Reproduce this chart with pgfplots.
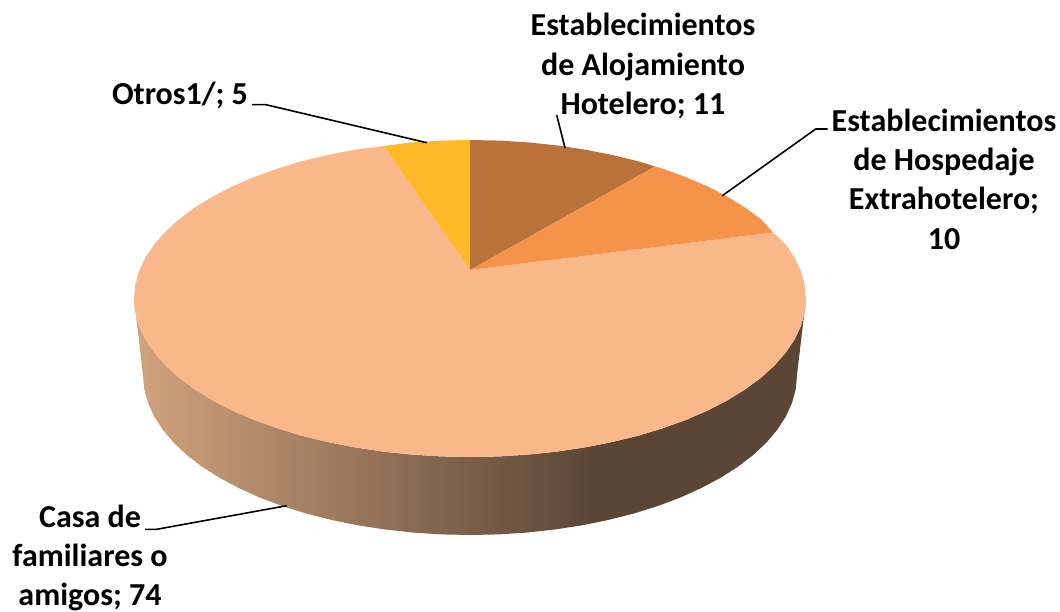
\documentclass[border=0pt]{standalone}
\usepackage{fontspec}
\setmainfont{Carlito}
\usepackage{pgfplots}
\pgfplotsset{compat=1.18}
\definecolor{casa}{HTML}{F8B88A}
\definecolor{otros}{HTML}{FDB927}
\definecolor{aloja}{HTML}{B8723A}
\definecolor{extra}{HTML}{F6934A}
% side of the disc: light on the left, dark from x=590 on
\pgfdeclarehorizontalshading{sidefade}{100bp}{
  rgb(0bp)=(0.824,0.639,0.494);
  rgb(25bp)=(0.824,0.639,0.494);
  rgb(59bp)=(0.357,0.275,0.212);
  rgb(100bp)=(0.357,0.275,0.212)}
\tikzset{
  lbl/.style={font=\fontsize{32}{39.3}\selectfont\bfseries, align=center, inner sep=0pt},
  leader/.style={black, line width=1.6pt, mark=none},
}
\begin{document}
\begin{tikzpicture}
\begin{axis}[
    hide axis,
    scale only axis,
    width=1060pt,
    height=612pt,
    xmin=0, xmax=1060,
    ymin=0, ymax=612,
    y dir=reverse,
    clip=false,
]
% page corners
\addplot[draw=none, mark=none] coordinates {(0,0) (1060,612)};
% side of the disc
\addplot[draw=none, mark=none, shade, shading=sidefade] coordinates {
  (806,298.5) (804.7,312.3) (800.9,326) (794.6,339.5) (785.7,352.7) (774.5,365.5) (761,377.75)
  (745.2,389.4) (727.4,400.4) (707.6,410.6) (686,419.9) (662.7,428.3) (638,435.8) (612,442.1)
  (584.9,447.4) (557,451.6) (528.3,454.6) (499.3,456.4) (470,457) (440.7,456.4) (411.7,454.6)
  (383,451.6) (355.1,447.4) (328,442.1) (302,435.8) (277.3,428.3) (254,419.9) (232.4,410.6)
  (212.6,400.4) (194.8,389.4) (179,377.75) (165.5,365.5) (154.3,352.7) (145.4,339.5) (139.1,326)
  (135.3,312.3) (134,298.5)
  (143,375) (144.2,388.9) (148,402.8) (154.1,416.4) (162.7,429.7) (173.6,442.6) (186.8,455)
  (202.1,466.8) (219.5,477.8) (238.8,488.1) (259.8,497.6) (282.4,506.1) (306.5,513.6) (331.8,520)
  (358.2,525.4) (385.4,529.5) (413.2,532.6) (441.5,534.4) (470,535) (498.5,534.4) (526.8,532.6)
  (554.6,529.5) (581.8,525.4) (608.2,520) (633.5,513.6) (657.6,506.1) (680.2,497.6) (701.2,488.1)
  (720.5,477.8) (737.9,466.8) (753.2,455) (766.4,442.6) (777.3,429.7) (785.9,416.4) (792,402.8)
  (795.8,388.9) (797,375)
} --cycle;
% Casa de familiares o amigos, 74
\addplot[draw=none, fill=casa, mark=none] coordinates {
  (470,270) (773,232.5) (785.7,244.3) (794.6,257.5) (800.9,271) (804.7,284.7) (806,298.5)
  (804.7,312.3) (800.9,326) (794.6,339.5) (785.7,352.7) (774.5,365.5) (761,377.75)
  (745.2,389.4) (727.4,400.4) (707.6,410.6) (686,419.9) (662.7,428.3) (638,435.8) (612,442.1)
  (584.9,447.4) (557,451.6) (528.3,454.6) (499.3,456.4) (470,457) (440.7,456.4) (411.7,454.6)
  (383,451.6) (355.1,447.4) (328,442.1) (302,435.8) (277.3,428.3) (254,419.9) (232.4,410.6)
  (212.6,400.4) (194.8,389.4) (179,377.75) (165.5,365.5) (154.3,352.7) (145.4,339.5) (139.1,326)
  (135.3,312.3) (134,298.5) (135.3,284.7) (139.1,271) (145.4,257.5) (154.3,244.3) (165.5,231.5)
  (179,219.25) (194.8,207.6) (212.6,196.6) (232.4,186.4) (254,177.1) (277.3,168.7) (302,161.2)
  (328,154.9) (355.1,149.6) (384,146)
} --cycle;
% Otros, 5
\addplot[draw=none, fill=otros, mark=none] coordinates {
  (470,270) (384,146) (411.7,142.4) (440.7,140.6) (470,140)
} --cycle;
% Alojamiento hotelero, 11
\addplot[draw=none, fill=aloja, mark=none] coordinates {
  (470,270) (470,140) (499.3,140.6) (528.3,142.4) (557,145.4) (584.9,149.6) (612,154.9) (638,161.2) (655,166.5)
} --cycle;
% Hospedaje extrahotelero, 10
\addplot[draw=none, fill=extra, mark=none] coordinates {
  (470,270) (655,166.5) (662.7,168.7) (686,177.1) (707.6,186.4) (727.4,196.6) (745.2,207.6) (761,219.25) (773,232.5)
} --cycle;
% leader lines
\addplot[leader] coordinates {(252,104.7) (266,104.7) (426.7,142.7)};
\addplot[leader] coordinates {(556.7,115) (565,148)};
\addplot[leader] coordinates {(827.7,129) (815.7,129) (722.3,195.7)};
\addplot[leader] coordinates {(145,529.3) (156.7,529.3) (286.7,505.7)};
% labels
\node[lbl] at (axis cs:643,66) {Establecimientos\\de Alojamiento\\Hotelero; 11};
\node[lbl] at (axis cs:944,179) {Establecimientos\\de Hospedaje\\Extrahotelero;\\10};
\node[lbl] at (axis cs:180,95) {Otros1/; 5};
\node[lbl] at (axis cs:90,558) {Casa de\\familiares o\\amigos; 74};
\end{axis}
\end{tikzpicture}
\end{document}
